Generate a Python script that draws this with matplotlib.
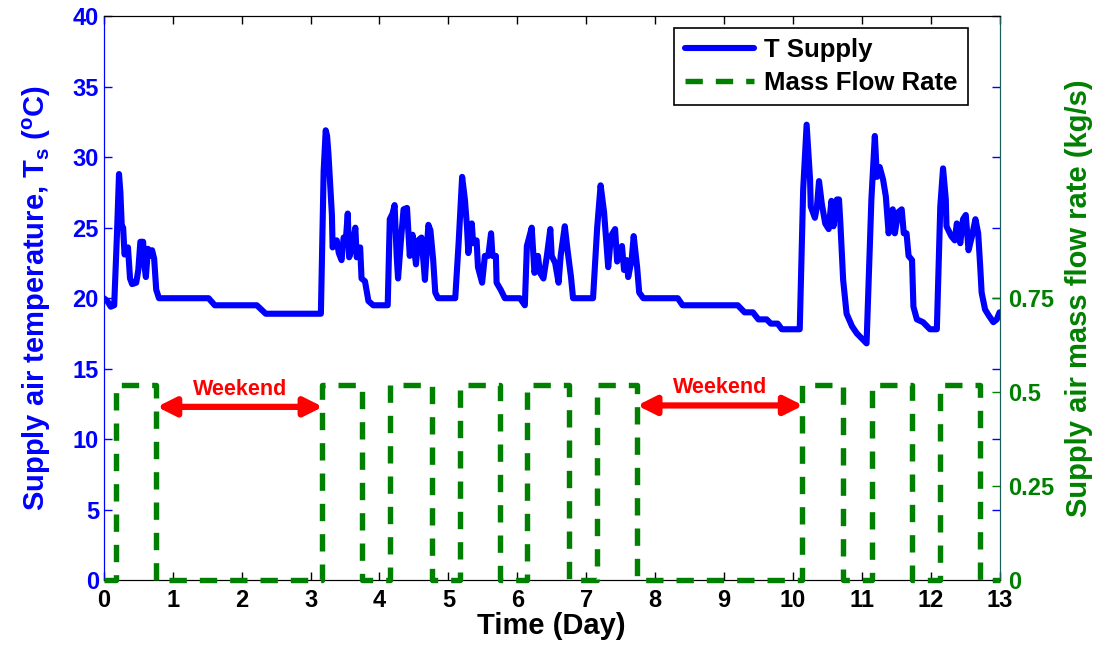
import numpy as np
import matplotlib
matplotlib.use("Agg")
import matplotlib.pyplot as plt

plt.rcParams['font.family'] = ['Liberation Sans', 'DejaVu Sans']
plt.rcParams['font.weight'] = 'bold'
plt.rcParams['mathtext.fontset'] = 'custom'
plt.rcParams['mathtext.rm'] = 'Liberation Sans:bold'
plt.rcParams['mathtext.bf'] = 'Liberation Sans:bold'
plt.rcParams['mathtext.it'] = 'Liberation Sans:bold'

# ---------------- data ----------------
t_day = [0.00, 0.05, 0.10, 0.15, 0.19, 0.22, 0.24, 0.26, 0.28, 0.30, 0.33, 0.35, 0.38, 0.41,
         0.47, 0.50, 0.53, 0.57, 0.59, 0.61, 0.64, 0.66, 0.70, 0.73, 0.76, 0.80,
         1.52, 1.61, 2.22, 2.35, 3.15,
         3.19, 3.22, 3.24, 3.26, 3.29, 3.31, 3.32, 3.35, 3.38, 3.41, 3.45, 3.48, 3.51, 3.54,
         3.56, 3.60, 3.65, 3.67, 3.72, 3.74, 3.79, 3.84, 3.91, 4.12,
         4.15, 4.19, 4.22, 4.25, 4.27, 4.31, 4.35, 4.40, 4.44, 4.48, 4.53, 4.56, 4.61, 4.66,
         4.71, 4.74, 4.78, 4.81, 4.85, 5.10,
         5.15, 5.20, 5.24, 5.27, 5.29, 5.34, 5.36, 5.41, 5.43, 5.49, 5.53, 5.58, 5.62, 5.64,
         5.69, 5.70, 5.76, 5.82, 6.04, 6.11,
         6.14, 6.21, 6.25, 6.30, 6.33, 6.38, 6.43, 6.48, 6.50, 6.55, 6.60, 6.63, 6.69, 6.73,
         6.78, 6.81, 7.10,
         7.16, 7.21, 7.26, 7.32, 7.36, 7.42, 7.45, 7.52, 7.55, 7.59, 7.61, 7.66, 7.69, 7.74,
         7.77, 7.83, 8.33, 8.40, 9.20, 9.30, 9.42, 9.50, 9.62, 9.68, 9.78, 9.84, 10.10,
         10.15, 10.20, 10.23, 10.25, 10.26, 10.32, 10.35, 10.38, 10.42, 10.47, 10.52, 10.56,
         10.59, 10.64, 10.67, 10.69, 10.73, 10.78, 10.86, 10.93, 11.07,
         11.14, 11.19, 11.22, 11.26, 11.31, 11.35, 11.39, 11.45, 11.48, 11.53, 11.58, 11.61,
         11.65, 11.68, 11.73, 11.75, 11.80, 11.89, 11.99, 12.09,
         12.14, 12.18, 12.22, 12.23, 12.30, 12.35, 12.38, 12.43, 12.47, 12.51, 12.55, 12.60,
         12.65, 12.69, 12.72, 12.74, 12.79, 12.84, 12.91, 12.96, 13.00]
t_supply = [20.0, 19.8, 19.4, 19.5, 24.5, 28.8, 27.5, 25.1, 25.0, 23.1, 23.5, 23.6, 21.4, 21.0,
            21.1, 22.0, 24.0, 24.0, 22.3, 21.5, 23.5, 23.0, 23.4, 22.8, 20.6, 20.0,
            20.0, 19.5, 19.5, 18.9, 18.9,
            29.0, 31.9, 31.5, 30.2, 27.6, 25.9, 23.6, 24.0, 24.1, 23.2, 22.7, 24.3, 24.0, 26.0,
            22.9, 23.5, 25.0, 22.9, 23.6, 21.4, 21.2, 19.8, 19.5, 19.5,
            25.6, 26.0, 26.6, 23.0, 21.4, 24.0, 26.3, 26.4, 23.0, 24.5, 22.4, 24.1, 24.3, 21.3,
            25.2, 24.8, 22.7, 20.4, 20.0, 20.0,
            24.0, 28.6, 27.0, 25.1, 23.2, 25.3, 23.9, 24.1, 22.2, 21.1, 23.0, 23.0, 24.6, 23.0,
            23.0, 21.1, 20.6, 20.0, 20.0, 19.5,
            23.7, 25.0, 21.8, 23.0, 21.8, 21.4, 23.0, 24.9, 23.0, 22.5, 21.1, 23.0, 25.1, 23.4,
            21.5, 20.0, 20.0,
            25.0, 28.0, 26.1, 22.2, 24.4, 24.9, 22.6, 23.7, 22.0, 22.7, 21.5, 22.7, 24.4, 22.2,
            20.4, 20.0, 20.0, 19.5, 19.5, 19.0, 19.0, 18.5, 18.5, 18.2, 18.2, 17.8, 17.8,
            27.7, 32.3, 30.0, 28.4, 26.5, 25.7, 26.5, 28.3, 26.7, 25.3, 24.9, 26.9,
            25.1, 27.0, 27.0, 25.3, 21.3, 18.9, 18.0, 17.5, 16.8,
            27.0, 31.5, 28.6, 29.3, 28.4, 27.2, 24.6, 26.3, 24.6, 26.1, 26.3, 24.6,
            24.6, 23.0, 22.7, 19.4, 18.5, 18.3, 17.8, 17.8,
            26.5, 29.2, 27.0, 25.1, 24.4, 24.1, 25.3, 23.9, 25.6, 25.9, 23.4, 24.4,
            25.6, 24.6, 22.2, 20.4, 19.2, 18.8, 18.3, 18.5, 19.0]

flow_on = [0.17, 3.16, 4.16, 5.17, 6.14, 7.16, 10.14, 11.15, 12.14]
flow_off = [0.76, 3.75, 4.76, 5.75, 6.75, 7.74, 10.73, 11.73, 12.72]
flow_rate = 0.52

weekend_start = [0.77, 7.74]
weekend_end = [3.18, 10.15]
weekend_y = [12.3, 12.4]
weekend_label = "Weekend"

x_ticks = list(range(0, 14))
y_ticks = [0, 5, 10, 15, 20, 25, 30, 35, 40]
y2_ticks = [0, 0.25, 0.5, 0.75]
y2_ticklabels = ['0', '0.25', '0.5', '0.75']

# build step series for mass flow
fx, fy = [0.0], [0.0]
for on, off in zip(flow_on, flow_off):
    fx += [on, on, off, off]
    fy += [0.0, flow_rate, flow_rate, 0.0]
fx.append(13.0)
fy.append(0.0)

BLUE = '#0000FF'
GREEN = '#008000'

fig = plt.figure(figsize=(10.99, 6.49), dpi=100)
ax = fig.add_axes([0.0945, 0.1057, 0.815, 0.8696])
ax2 = ax.twinx()

l1, = ax.plot(t_day, t_supply, color=BLUE, lw=4.4, solid_joinstyle='round',
              solid_capstyle='round', label='T Supply', zorder=3)
l2, = ax2.plot(fx, fy, color=GREEN, lw=3.9, dashes=(3.2, 2.4), label='Mass Flow Rate',
               clip_on=False, zorder=3)

ax.set_xlim(0, 13)
ax.set_ylim(0, 40)
ax2.set_ylim(0, 1.5)
ax.set_xticks(x_ticks)
ax.set_yticks(y_ticks)
ax2.set_yticks(y2_ticks)
ax2.set_yticklabels(y2_ticklabels)

ax.tick_params(axis='both', direction='in', length=6, width=1.0, labelsize=17, top=True)
ax.tick_params(axis='y', colors=BLUE, right=True, labelcolor=BLUE)
ax.tick_params(axis='x', colors='black', pad=6)
ax2.tick_params(axis='y', direction='in', length=6, width=1.0, colors=GREEN, labelsize=17,
                labelcolor=GREEN, pad=6)
for lab in ax.get_xticklabels() + ax.get_yticklabels() + ax2.get_yticklabels():
    lab.set_fontweight('bold')

ax.spines['left'].set_color(BLUE)
ax.spines['right'].set_color('#1a5e5e')
ax2.spines['right'].set_color('#1a5e5e')
ax2.spines['left'].set_color(BLUE)
for s in ['top', 'bottom']:
    ax.spines[s].set_color('black')
    ax2.spines[s].set_color('black')

ax.set_xlabel('Time (Day)', fontsize=21, fontweight='bold', labelpad=0)
ax.set_ylabel(r'Supply air temperature, T$_{\mathbf{s}}$ ($^{\mathbf{o}}$C)', fontsize=21,
              fontweight='bold', color=BLUE, labelpad=14)
ax2.set_ylabel('Supply air mass flow rate (kg/s)', fontsize=21, fontweight='bold',
               color=GREEN, labelpad=8)

for xs, xe, yy in zip(weekend_start, weekend_end, weekend_y):
    ax.annotate('', xy=(xs, yy), xytext=(xe, yy),
                arrowprops=dict(arrowstyle='<|-|>,head_length=1.1,head_width=0.55',
                                color='#FF0000', lw=4.5, shrinkA=0, shrinkB=0), zorder=5)
    ax.text((xs + xe) / 2, yy + 0.5, weekend_label, color='#FF0000', fontsize=15.5,
            fontweight='bold', ha='center', va='bottom', zorder=5)

leg = ax2.legend([l1, l2], ['T Supply', 'Mass Flow Rate'], loc='upper right',
                 bbox_to_anchor=(0.965, 0.979), borderaxespad=0,
                 prop={'weight': 'bold', 'size': 18.5}, handlelength=2.7, fancybox=False,
                 framealpha=1, edgecolor='black', borderpad=0.4, handletextpad=0.4,
                 labelspacing=0.35)
leg.get_frame().set_linewidth(1.2)

fig.savefig('out.png', dpi=100)
